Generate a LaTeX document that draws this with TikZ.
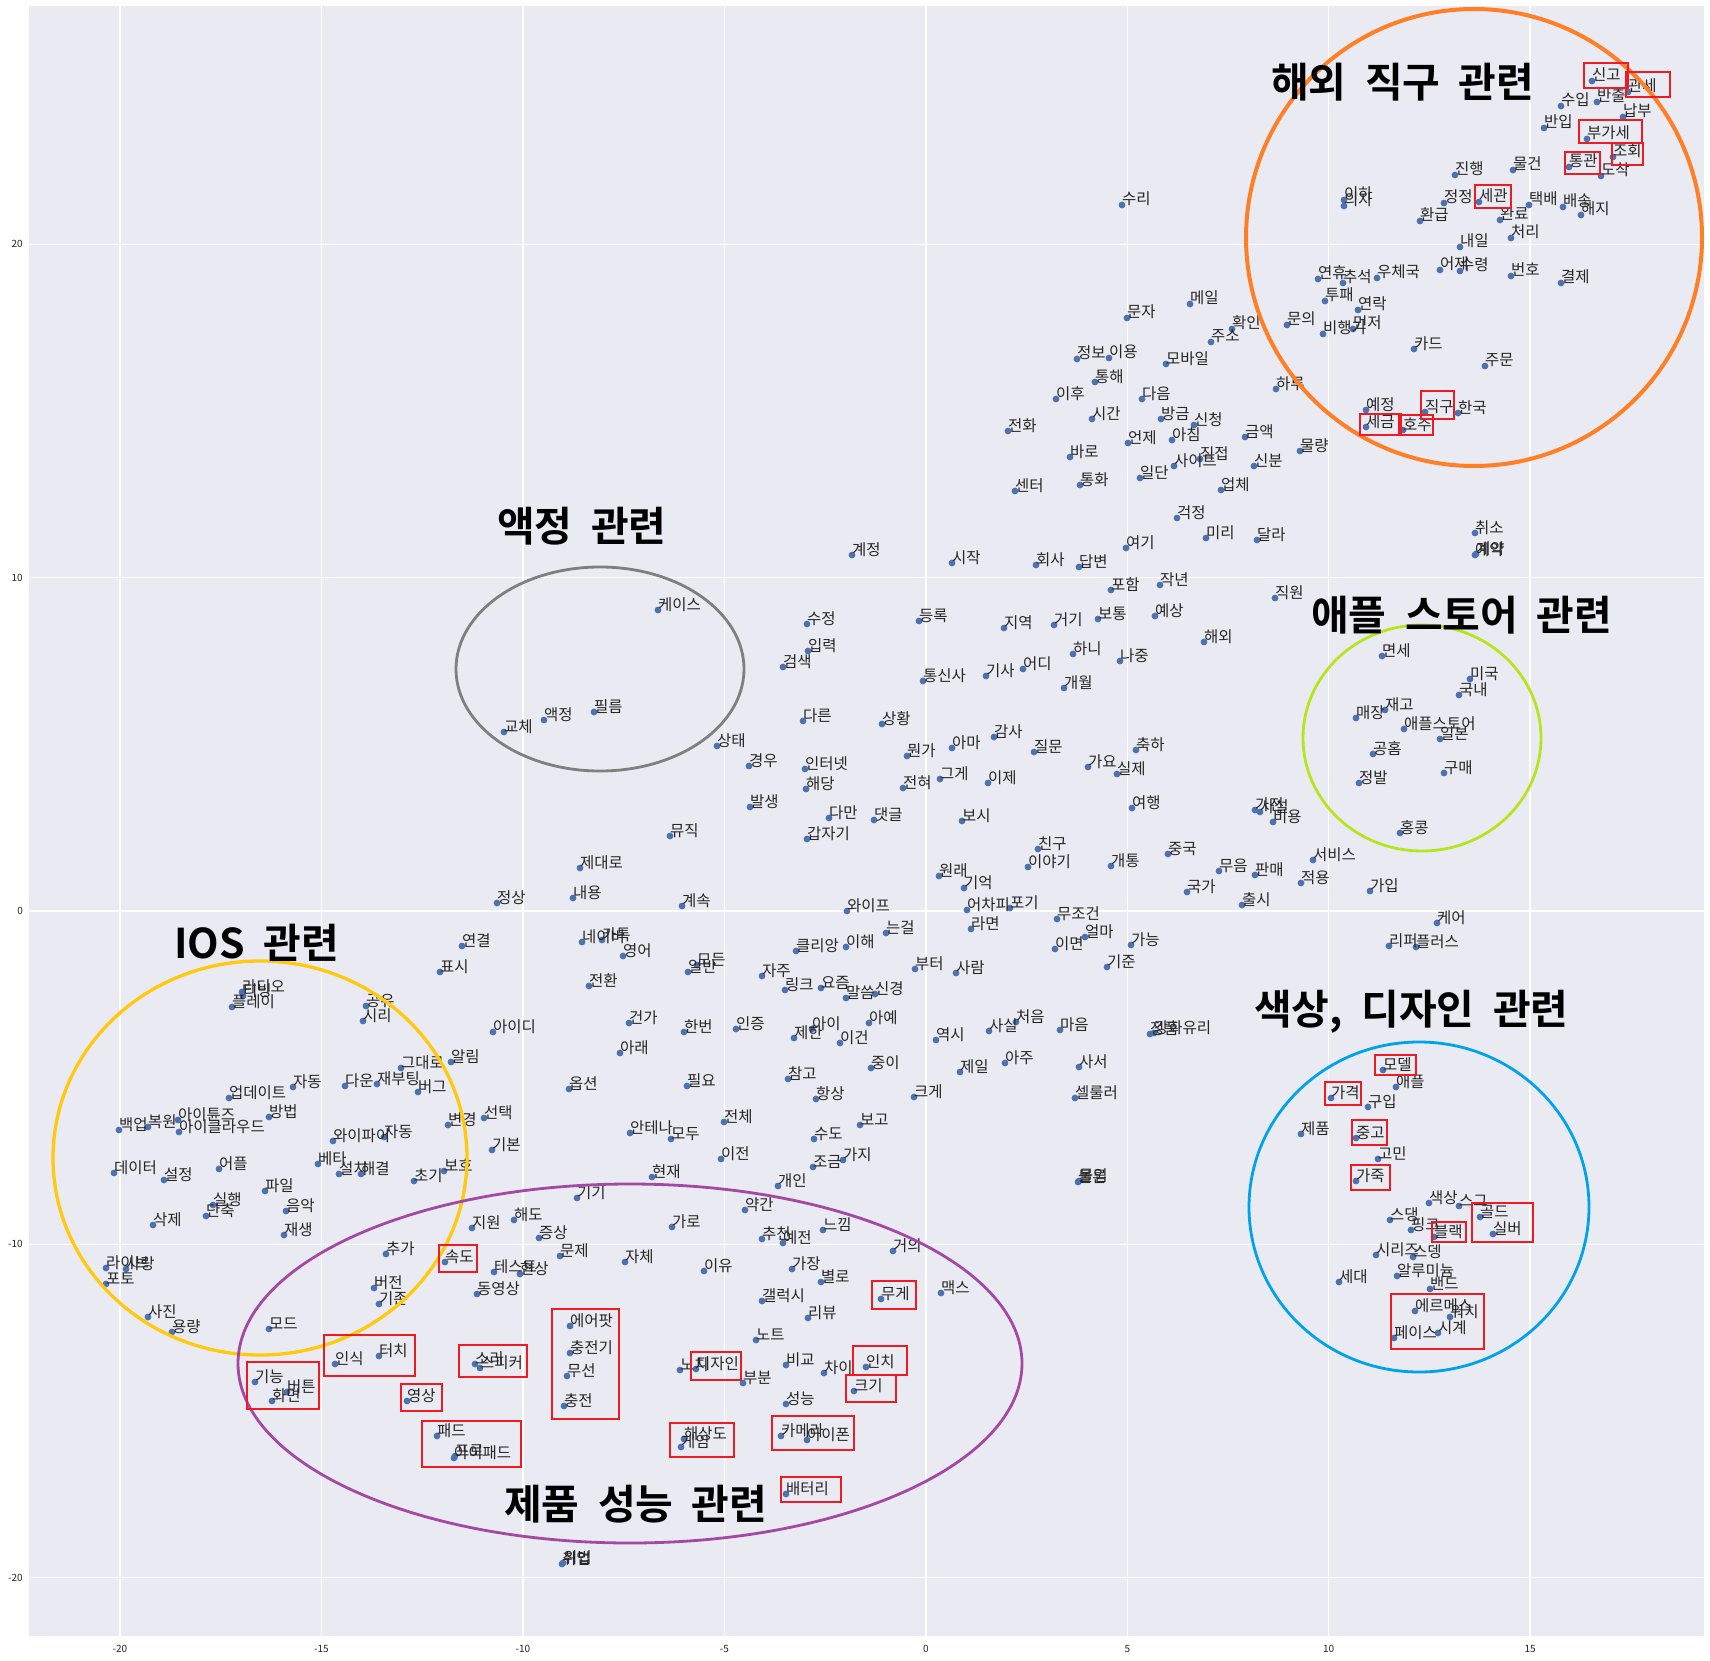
\documentclass[tikz,border=0pt]{standalone}
\usepackage{fontspec}
\setmainfont{Noto Sans CJK KR}[BoldFont={Noto Sans CJK KR Bold}]
\definecolor{axbg}{RGB}{234,234,242}
\definecolor{dotc}{RGB}{76,114,176}
\definecolor{txt}{RGB}{38,38,38}
\definecolor{cor}{RGB}{255,127,39}
\definecolor{clime}{RGB}{181,230,29}
\definecolor{cgray}{RGB}{127,127,127}
\definecolor{cgold}{RGB}{255,201,14}
\definecolor{cblue}{RGB}{0,162,232}
\definecolor{cpurp}{RGB}{163,73,164}
\definecolor{cred}{RGB}{237,28,36}
\tikzset{
  lbl/.style={anchor=base west, inner sep=0pt, text=txt, font=\fontsize{15.5}{17}\selectfont},
  ttl/.style={anchor=west, inner sep=0pt, text=black, font={\fontsize{41}{47}\selectfont\bfseries\spaceskip=0.45em\relax}},
  tick/.style={inner sep=0pt, text=txt, font=\fontsize{10}{12}\selectfont},
  grp/.style={line width=2.8pt},
  rbox/.style={draw=cred, line width=2.6pt},
  gridl/.style={white, line width=1.5pt},
}
\def\pts{1592/81/신고,1628/92/관세,1561/106/수입,1597/102/반출,1623/117/납부,1544/128/반입,1587/139/부가세,1613/157/조회,1569/167/통관,1601/176/도착,1513/170/물건,1455/175/진행,1344/200/이하,1344/206/의자,1444/203/정정,1479/202/세관,1529/205/택배,1563/207/배송,1581/215/해지,1420/221/환급,1500/220/완료,1511/238/처리,1460/247/내일,1440/270/어제,1460/271/수령,1511/276/번호,1561/283/결제,1318/279/연휴,1343/283/추석,1377/278/우체국,1325/301/투패,1358/310/연락,1287/325/문의,1323/334/비행기,1353/329/먼저,1232/329/확인,1414/349/카드,1485/366/주문,1276/389/하루,1366/410/예정,1425/412/직구,1458/413/한국,1366/427/세금,1403/430/호주,1245/437/금액,1300/451/물량,1254/466/신분,
1122/205/수리,1190/304/메일,1127/318/문자,1211/342/주소,1077/359/정보,1109/358/이용,1166/364/모바일,1095/382/통해,1056/399/이후,1142/399/다음,1092/419/시간,1161/419/방금,1194/425/신청,1008/431/전화,1128/443/언제,1172/440/아침,1070/457/바로,1174/466/사이트,1200/459/직접,1140/478/일단,1015/491/센터,1080/485/통화,1221/490/업체,1177/518/걱정,1206/538/미리,1257/540/달라,1126/548/여기,
1475/533/취소,1475/555/예약,1476/554/계약,1275/598/직원,1382/656/면세,1470/679/미국,1459/695/국내,1385/710/재고,1356/718/매장,1404/729/애플스토어,1440/739/일본,1373/754/공홈,1444/773/구매,1359/783/정발,1255/810/가전,1260/812/사설,1273/822/비용,1400/833/홍콩,1313/860/서비스,1255/875/판매,1301/883/적용,1370/891/가입,1242/905/출시,1437/923/케어,1389/946/리퍼,1416/947/플러스,
852/555/계정,952/563/시작,1036/565/회사,1079/567/답변,1111/590/포함,1160/585/작년,807/624/수정,919/621/등록,1004/628/지역,1054/625/거기,1098/619/보통,1155/616/예상,1204/642/해외,808/651/입력,783/667/검색,1073/654/하니,1120/661/나중,923/681/통신사,986/676/기사,1023/669/어디,1064/688/개월,803/721/다른,882/724/상황,994/737/감사,952/748/아마,907/756/뭔가,1034/752/질문,1136/750/축하,1088/767/가요,1117/774/실제,805/769/인터넷,806/789/해당,903/788/전혀,940/779/그게,988/783/이제,1132/808/여행,829/818/다만,874/820/댓글,962/821/보시,807/839/갑자기,1038/849/친구,1028/867/이야기,1111/866/개통,1168/854/중국,1219/871/무음,939/876/원래,964/888/기억,1187/892/국가,
658/610/케이스,594/712/필름,544/720/액정,504/732/교체,717/746/상태,749/766/경우,750/807/발생,670/836/뮤직,580/868/제대로,497/903/정상,573/898/내용,682/906/계속,462/946/연결,582/942/네이버,602/940/카톡,623/956/영어,
440/972/표시,242/992/라디오,243/996/티빙,232/1007/플레이,366/1006/공유,363/1021/시리,493/1032/아이디,401/1068/그대로,451/1062/알림,293/1087/자동,345/1086/다운,377/1084/재부팅,418/1092/버그,229/1098/업데이트,269/1117/방법,178/1120/아이튠즈,179/1132/아이클라우드,119/1130/백업,148/1127/복원,448/1125/변경,484/1118/선택,333/1141/와이파이,384/1137/자동,492/1150/기본,114/1173/데이터,164/1180/설정,219/1169/어플,318/1164/베타,339/1174/설치,361/1174/해결,414/1181/초기,444/1171/보호,265/1191/파일,213/1205/실행,206/1216/단축,286/1211/음악,153/1225/삭제,284/1235/재생,386/1254/추가,472/1228/지원,445/1262/속도,494/1272/테스트,520/1274/현상,106/1268/라이브,126/1269/사랑,106/1284/포토,148/1317/사진,172/1332/용량,374/1288/버전,379/1304/기존,477/1294/동영상,269/1329/모드,
847/911/와이프,886/933/는걸,697/965/모든,688/972/일반,589/986/전환,762/976/자주,796/951/클리앙,846/947/이해,785/990/링크,821/988/요즘,846/998/말씀,875/994/신경,629/1023/건가,684/1032/한번,736/1029/인증,794/1038/제한,812/1029/아이,840/1043/이건,869/1023/아예,620/1053/아래,871/1068/중이,788/1079/참고,569/1089/옵션,687/1086/필요,816/1099/항상,724/1122/전체,860/1125/보고,630/1133/안테나,671/1139/모두,814/1139/수도,721/1159/이전,843/1160/가지,813/1167/조금,652/1177/현재,778/1186/개인,577/1198/기기,745/1210/약간,514/1220/해도,672/1227/가로,539/1238/증상,823/1230/느낌,762/1239/추천,783/1243/예전,
967/910/어차피,1010/908/포기,1057/919/무조건,971/929/라면,1085/937/얼마,1055/949/이면,1131/945/가능,1107/967/기준,915/969/부터,956/973/사람,1016/1022/처음,989/1031/사실,1060/1030/마음,936/1040/역시,1150/1034/정품,1154/1033/강화유리,1005/1063/아주,960/1072/제일,1079/1067/사서,914/1097/크게,1075/1098/셀룰러,1078/1182/물론,1079/1181/몰입,
1383/1070/모델,1396/1087/애플,1331/1098/가격,1368/1107/구입,1301/1134/제품,1356/1138/중고,1378/1159/고민,1356/1181/가죽,1429/1203/색상,1459/1206/스그,1480/1217/골드,1493/1234/실버,1390/1220/스댕,1411/1230/핑크,1434/1237/블랙,1376/1255/시리즈,1413/1257/스뎅,1339/1282/세대,1397/1276/알루미늄,1430/1289/밴드,1415/1311/에르메스,1450/1317/워치,1438/1333/시계,1394/1338/페이스,
560/1256/문제,570/1326/에어팟,570/1353/충전기,567/1376/무선,564/1406/충전,335/1364/인식,379/1356/터치,475/1364/소리,480/1368/스피커,255/1382/기능,287/1392/버튼,272/1401/화면,407/1401/영상,437/1436/패드,454/1458/아이패드,455/1456/프로,562/1564/취업,563/1563/위법,625/1262/자체,704/1271/이유,792/1269/가장,821/1282/별로,893/1251/거의,881/1299/무게,941/1293/맥스,762/1301/갤럭시,808/1318/리뷰,756/1340/노트,680/1370/노치,696/1369/디자인,743/1383/부분,786/1365/비교,824/1373/차이,866/1367/인치,854/1391/크기,786/1404/성능,684/1439/해상도,681/1447/게임,781/1436/카메라,807/1440/아이폰,786/1494/배터리}
\begin{document}
\begin{tikzpicture}[x=1pt,y=-1pt]
\useasboundingbox (0,0) rectangle (1710,1661);
\fill[white] (0,0) rectangle (1710,1661);
\fill[axbg] (29,6) rectangle (1704,1636);
\foreach \gx in {120,321.5,522.9,724.4,925.8,1127.3,1328.7,1530.2} \draw[gridl] (\gx,6) -- (\gx,1636);
\foreach \gy in {244.4,577.7,911,1244.3,1577.6} \draw[gridl] (29,\gy) -- (1704,\gy);
\foreach \gx/\lab [count=\i] in {120/-20,321.5/-15,522.9/-10,724.4/-5,925.8/0,1127.3/5,1328.7/10,1530.2/15}
  \node[tick] (xt\i) at (\gx,1649) {\lab};
\foreach \gy/\lab [count=\i] in {244.4/20,577.7/10,911/0,1244.3/-10,1577.6/-20}
  \node[tick,anchor=east] (yt\i) at (23,\gy) {\lab};
\foreach \px/\py/\lab in \pts \fill[dotc] (\px,\py) circle (3.4);
\foreach \px/\py/\lab [count=\i] in \pts \node[lbl] (p\i) at (\px,\py) {\lab};
% group outlines
\draw[cor, line width=4pt] (1474,237.5) ellipse [x radius=228, y radius=228.5];
\draw[clime, grp] (1422,738) ellipse [x radius=119, y radius=113];
\draw[cgray, grp] (600,669) ellipse [x radius=144, y radius=102];
\draw[cgold, line width=3.3pt] (260,1158) ellipse [x radius=207, y radius=197];
\draw[cblue, grp] (1419,1207) ellipse [x radius=170, y radius=165];
\draw[cpurp, grp] (630,1363.5) ellipse [x radius=392, y radius=179.5];
% red boxes
\draw[rbox] (1584,63) rectangle (1628,88);
\draw[rbox] (1626,72) rectangle (1670,97);
\draw[rbox] (1579,120) rectangle (1642,143);
\draw[rbox] (1612,143) rectangle (1643,165);
\draw[rbox] (1565,152) rectangle (1600,174);
\draw[rbox] (1475,185) rectangle (1511,208);
\draw[rbox] (1421,391) rectangle (1454,419);
\draw[rbox] (1360,414) rectangle (1401,435);
\draw[rbox] (1399,415) rectangle (1433,435);
\draw[rbox] (439,1245) rectangle (477,1272);
\draw[rbox] (552,1309) rectangle (619,1419);
\draw[rbox] (324,1335) rectangle (415,1376);
\draw[rbox] (459,1345) rectangle (527,1377);
\draw[rbox] (247,1362) rectangle (319,1409);
\draw[rbox] (401,1384) rectangle (442,1411);
\draw[rbox] (422,1421) rectangle (521,1467);
\draw[rbox] (872,1281) rectangle (916,1309);
\draw[rbox] (691,1352) rectangle (741,1380);
\draw[rbox] (853,1346) rectangle (907,1375);
\draw[rbox] (846,1375) rectangle (896,1402);
\draw[rbox] (670,1423) rectangle (734,1457);
\draw[rbox] (772,1416) rectangle (854,1450);
\draw[rbox] (781,1477) rectangle (841,1502);
\draw[rbox] (1375,1055) rectangle (1416,1075);
\draw[rbox] (1325,1082) rectangle (1361,1105);
\draw[rbox] (1352,1120) rectangle (1387,1145);
\draw[rbox] (1351,1165) rectangle (1390,1190);
\draw[rbox] (1472,1203) rectangle (1533,1242);
\draw[rbox] (1432,1222) rectangle (1466,1242);
\draw[rbox] (1391,1294) rectangle (1484,1349);
% titles
\node[ttl] (t1) at (1271,82.5) {해외 직구 관련};
\node[ttl] (t2) at (1311,615) {애플 스토어 관련};
\node[ttl] (t3) at (497,526) {액정 관련};
\node[ttl] (t4) at (174,942.5) {IOS 관련};
\node[ttl] (t5) at (1254,1012) {색상, 디자인 관련};
\node[ttl] (t6) at (504,1504) {제품 성능 관련};
\end{tikzpicture}
\end{document}
